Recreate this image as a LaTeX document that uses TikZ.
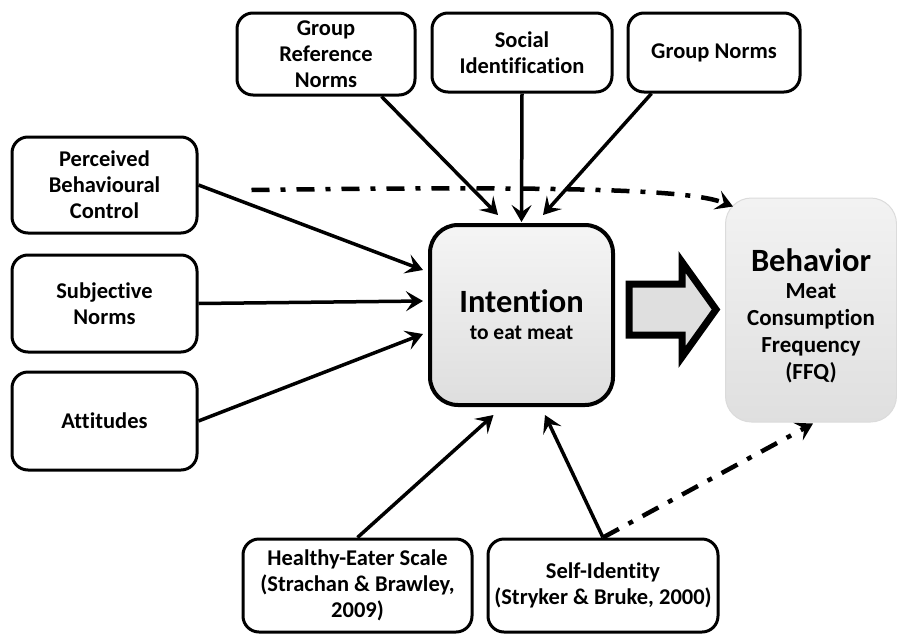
\documentclass[tikz,border=0pt]{standalone}
\usepackage{fontspec}
\setmainfont[Ligatures=NoCommon]{Carlito}
\usetikzlibrary{arrows.meta,calc}
\begin{document}
\begin{tikzpicture}[x=1pt,y=-1pt,
  factor/.style={draw=black, line width=3pt, rounded corners=16pt, fill=white,
    align=center, font=\fontsize{22.5}{26}\selectfont\bfseries, inner sep=2pt},
  arr/.style={line width=3.5pt, -{Stealth[length=17pt,width=20pt,inset=7pt]}},
  dashdot/.style={line width=4.5pt, dash pattern=on 18pt off 11pt on 5pt off 11pt,
    -{Stealth[length=17pt,width=20pt,inset=7pt]}}]
  \useasboundingbox (0,0) rectangle (897,635);

  % central construct
  \node[draw=black, line width=4pt, rounded corners=28pt,
        top color=gray!8, bottom color=gray!26,
        minimum width=183pt, minimum height=180pt, align=center,
        font=\fontsize{21.5}{27}\selectfont\bfseries]
    (intent) at (521.5,315)
    {{\fontsize{32.5}{34}\selectfont Intention}\\to eat meat};

  % outcome
  \node[draw=gray!28, line width=1pt, rounded corners=26pt,
        top color=gray!10, bottom color=gray!25,
        minimum width=171pt, minimum height=224pt, align=center,
        font=\fontsize{23}{27}\selectfont\bfseries]
    (beh) at (811,310) {};
  \node[align=center, font=\fontsize{23}{27}\selectfont\bfseries]
    (behtext) at ([yshift=-6pt]beh.center)
    {{\fontsize{32.5}{34}\selectfont Behavior}\\Meat\\Consumption\\Frequency\\(FFQ)};

  % predictors
  \node[factor, minimum width=178pt, minimum height=82pt] (grn) at (326,54)
    {Group\\Reference\\Norms};
  \node[factor, minimum width=180pt, minimum height=79pt] (soc) at (522,52.5)
    {Social\\Identification};
  \node[factor, minimum width=172pt, minimum height=79pt] (gn) at (714,52.5)
    {Group Norms};
  \node[factor, minimum width=185pt, minimum height=96pt] (pbc) at (104.5,185)
    {Perceived\\Behavioural\\Control};
  \node[factor, minimum width=185pt, minimum height=97pt] (subj) at (104.5,303.5)
    {Subjective\\Norms};
  \node[factor, minimum width=185pt, minimum height=98pt] (att) at (104.5,421)
    {Attitudes};
  \node[factor, minimum width=229pt, minimum height=93pt] (hes) at (357.5,585.5)
    {Healthy-Eater Scale\\(Strachan \& Brawley,\\2009)};
  \node[factor, minimum width=230pt, minimum height=93pt] (sid) at (603,585.5)
    {Self-Identity\\(Stryker \& Bruke, 2000)};

  % paths into intention
  \draw[arr] ([xshift=-35pt]grn.south east) -- ([xshift=-23.5pt,yshift=8pt]intent.north);
  \draw[arr] (soc.south) -- ([yshift=1pt]intent.north);
  \draw[arr] ([xshift=25pt]gn.south west) -- ([xshift=21.5pt,yshift=8pt]intent.north);
  \draw[arr] (pbc.east) -- ([xshift=-5pt,yshift=45pt]intent.west);
  \draw[arr] (subj.east) -- ([xshift=-5pt,yshift=14pt]intent.west);
  \draw[arr] (att.east) -- ([xshift=-5pt,yshift=-19pt]intent.west);
  \draw[arr] (hes.north) -- ([xshift=-28pt,yshift=-8pt]intent.south);
  \draw[arr] (sid.north) -- ([xshift=23.5pt,yshift=-8pt]intent.south);

  % direct paths into behaviour
  \draw[dashdot] ([xshift=53pt,yshift=-5pt]pbc.east)
    .. controls (560,186) and (690,189) .. ([xshift=8pt,yshift=-9pt]beh.north west);
  \draw[dashdot] (sid.north) -- ([xshift=2pt,yshift=-1pt]beh.south);

  % intention -> behaviour block arrow
  \draw[line width=7pt, miter limit=10, fill=gray!25]
    (629,284) -- (682,284) -- (682,262) -- (716,309.5)
    -- (682,357) -- (682,335) -- (629,335) -- cycle;
\end{tikzpicture}
\end{document}
